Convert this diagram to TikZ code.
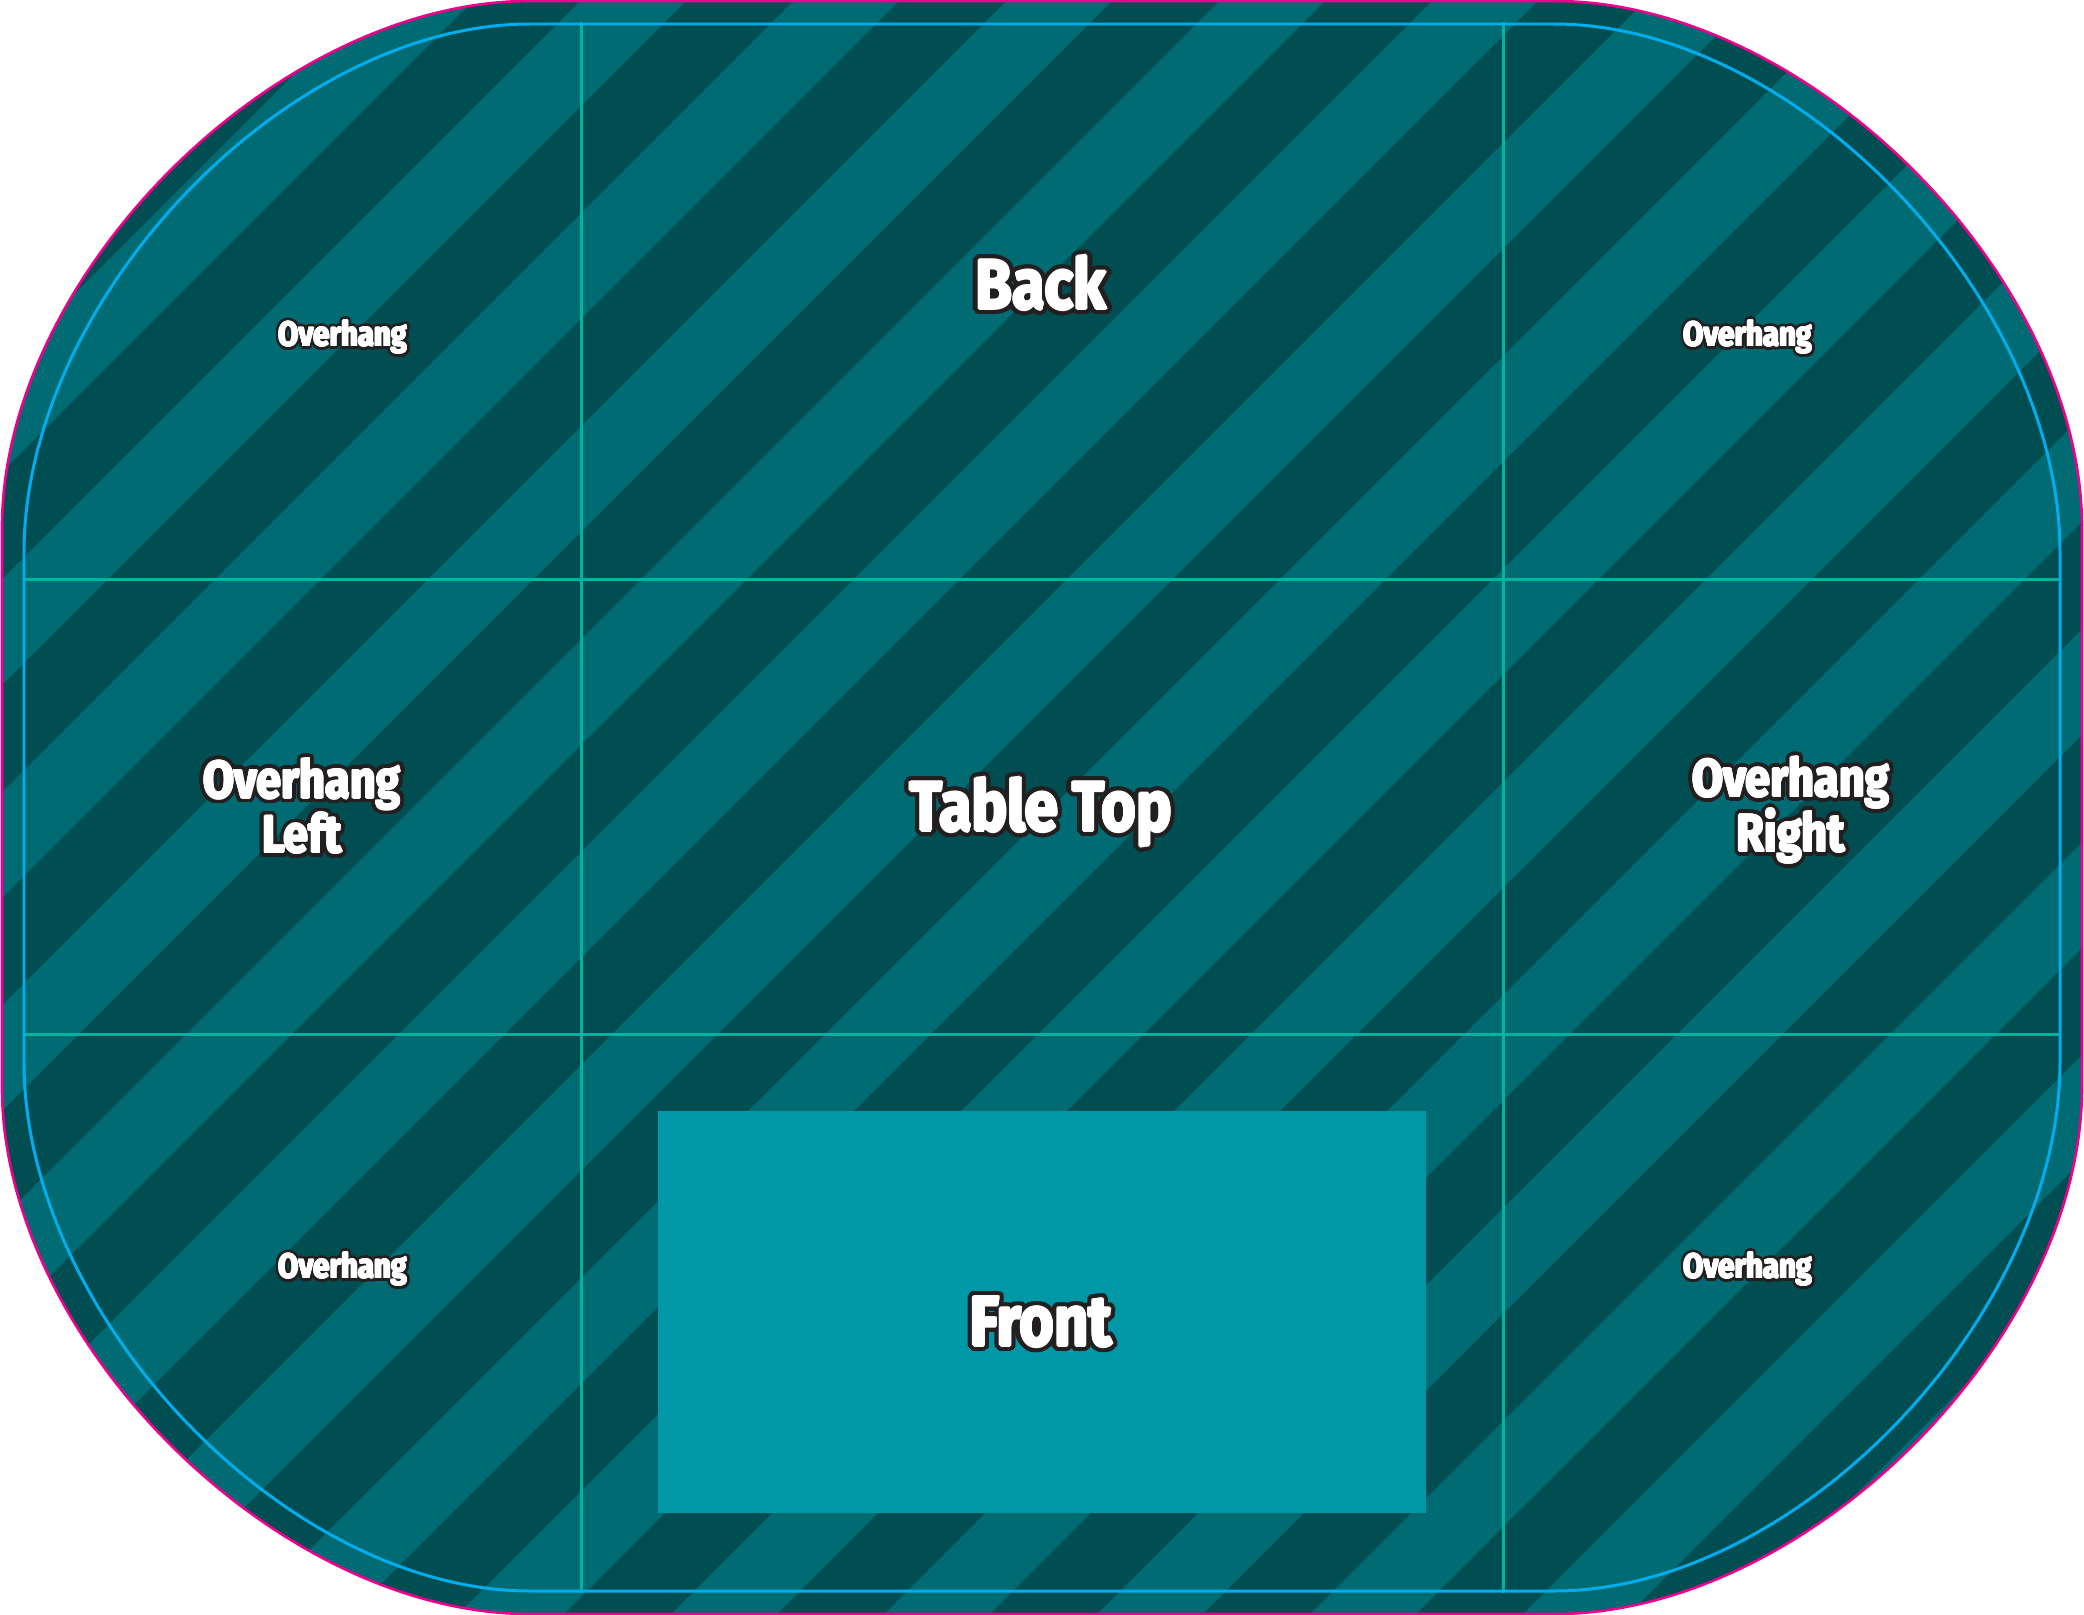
\documentclass[tikz,border=0pt]{standalone}
\usepackage{fontspec}
\newfontfamily\lblfont[FakeStretch=0.85]{Fira Sans}
\definecolor{stripeL}{RGB}{0,107,114}
\definecolor{stripeD}{RGB}{0,77,82}
\definecolor{frontC}{RGB}{0,151,166}
\definecolor{gridC}{RGB}{0,180,158}
\definecolor{trimC}{RGB}{0,174,239}
\definecolor{bleedC}{RGB}{236,0,140}
\definecolor{olC}{RGB}{35,31,32}
\tikzset{
  gridline/.style={draw=gridC, line width=0.85pt},
  trimline/.style={draw=trimC, line width=0.85pt},
  bleedline/.style={draw=bleedC, line width=0.75pt},
  lbl/.style={inner sep=0pt, align=center},
  bigl/.style={font=\lblfont\bfseries\fontsize{20}{22}\selectfont},
  midl/.style={font=\lblfont\bfseries\fontsize{15}{15.6}\selectfont},
  smll/.style={font=\lblfont\bfseries\fontsize{9.8}{11}\selectfont},
}
% #1 name, #2 style, #3 position, #4 outline radius, #5 white thickening radius, #6 text
\newcommand\olabel[6]{%
  \foreach \ang in {0,15,...,345}
    \node[lbl,#2,text=olC] at ([shift={(\ang:#4)}]#3) {#6};
  \foreach \ang in {0,45,...,315}
    \node[lbl,#2,text=white] at ([shift={(\ang:#5)}]#3) {#6};
  \node[lbl,#2,text=white] (#1) at (#3) {#6};
}
\def\outerpath{(530,1) -- (1554,1) .. controls (1807,1) and (2082,275) .. (2082,528) -- (2082,1087) .. controls (2082,1340) and (1807,1614) .. (1554,1614) -- (530,1614) .. controls (277,1614) and (2,1340) .. (2,1087) -- (2,528) .. controls (2,275) and (277,1) .. (530,1) -- cycle}
\def\trimpath{(530,24) -- (1554,24) .. controls (1797,24) and (2060,299) .. (2060,553) -- (2060,1062) .. controls (2060,1316) and (1797,1591) .. (1554,1591) -- (530,1591) .. controls (287,1591) and (24,1316) .. (24,1062) -- (24,553) .. controls (24,299) and (287,24) .. (530,24) -- cycle}
\begin{document}
\begin{tikzpicture}[x=0.01cm,y=-0.01cm]
\useasboundingbox (0,0) rectangle (2084,1615);
\begin{scope}
  \clip \outerpath;
  \fill[stripeL] (0,0) rectangle (2084,1615);
  \foreach \n in {-1,...,18} {
    \pgfmathsetmacro\sa{48+213*\n}
    \pgfmathsetmacro\sb{155+213*\n}
    \fill[stripeD] (\sa+100,-100) -- (\sb+100,-100) -- (\sb-1715,1715) -- (\sa-1715,1715) -- cycle;
  }
\end{scope}
\fill[frontC] (658,1111) rectangle (1426,1513);
\draw[gridline] (581,22) -- (581,1593);
\draw[gridline] (1503,22) -- (1503,1593);
\draw[gridline] (24,579) -- (2060,579);
\draw[gridline] (24,1034) -- (2060,1034);
\draw[trimline] \trimpath;
\draw[bleedline] \outerpath;
\olabel{back}{bigl}{1041,283}{1.6pt}{0.35pt}{Back}
\olabel{tabletop}{bigl}{1041,812}{1.6pt}{0.35pt}{Table Top}
\olabel{front}{bigl}{1041,1322}{1.6pt}{0.35pt}{Front}
\olabel{ovleft}{midl}{302,806}{1.35pt}{0.28pt}{Overhang\\Left}
\olabel{ovright}{midl}{1791,810}{1.35pt}{0.28pt}{Overhang\\Right}
\olabel{ovtl}{smll}{343,337}{0.95pt}{0.18pt}{Overhang}
\olabel{ovtr}{smll}{1748,337}{0.95pt}{0.18pt}{Overhang}
\olabel{ovbl}{smll}{343,1269}{0.95pt}{0.18pt}{Overhang}
\olabel{ovbr}{smll}{1748,1269}{0.95pt}{0.18pt}{Overhang}
\end{tikzpicture}
\end{document}
